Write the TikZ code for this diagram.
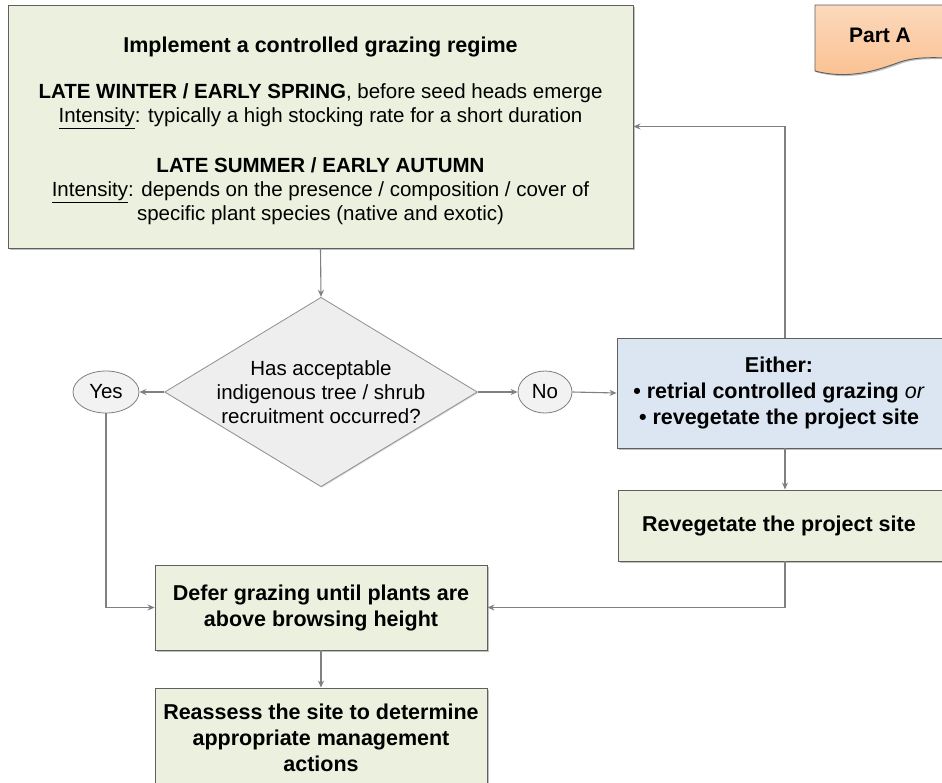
\documentclass[tikz,border=0pt]{standalone}
\usepackage{fontspec}
\setmainfont{Liberation Sans}
\usetikzlibrary{shapes.geometric,shadows,arrows.meta}
\definecolor{boxgreen}{HTML}{EBF1DE}
\definecolor{boxblue}{HTML}{DCE6F2}
\definecolor{boxgray}{HTML}{EEEEEE}
\definecolor{edgegray}{HTML}{5F5F5F}
\definecolor{linegray}{HTML}{808080}
\definecolor{partorange}{HTML}{FAC090}
\begin{document}
\begin{tikzpicture}[x=1pt,y=-1pt,
  every node/.style={font=\fontsize{20.5}{24}\selectfont},
  shad/.style={drop shadow={shadow xshift=1.5pt,shadow yshift=-1.5pt,fill=black,opacity=0.25}},
  gbox/.style={rectangle,draw=edgegray,line width=0.9pt,fill=boxgreen,shad,align=center,inner sep=0pt},
  boldbox/.style={gbox,font=\fontsize{21.5}{26}\selectfont\bfseries},
  bbox/.style={boldbox,fill=boxblue},
  decision/.style={diamond,draw=edgegray!70,line width=0.8pt,fill=boxgray,drop shadow={shadow xshift=1pt,shadow yshift=-1pt,fill=black,opacity=0.15},align=center,inner sep=0pt},
  answer/.style={ellipse,draw=edgegray!80,line width=0.8pt,fill=white!95!black,inner sep=0pt,minimum width=66pt,minimum height=42pt},
  conn/.style={draw=linegray,line width=1.1pt,-{Stealth[length=7pt,width=6pt]}}
]
\useasboundingbox (0,0) rectangle (942,782);
\clip (0,0) rectangle (942,782);
\fill[white] (0,0) rectangle (942,782);

% Part A document shape
\path[draw=edgegray,line width=0.9pt,top color=partorange!60,bottom color=partorange,shad]
  (815,5) -- (960,5) -- (960,58) .. controls (935,58) and (918,56) .. (900,62)
  .. controls (878,70) and (850,80) .. (815,71) -- cycle;
\node[font=\fontsize{21}{24}\selectfont\bfseries] (partA) at (880,35) {Part A};

\node[gbox,minimum width=625pt,minimum height=243pt] (top) at (320.5,126.5) {%
\rule{0pt}{24pt}{\fontsize{21.5}{24}\selectfont\bfseries Implement a controlled grazing regime}\\[22pt]
\textbf{LATE WINTER / EARLY SPRING}, before seed heads emerge\\
\underline{Intensity}: typically a high stocking rate for a short duration\\[26pt]
\textbf{LATE SUMMER / EARLY AUTUMN}\\
\underline{Intensity}: depends on the presence / composition / cover of\\
specific plant species (native and exotic)};

\node[decision,minimum width=312pt,minimum height=189pt,shape aspect=1.65] (dec) at (321,392) {%
Has acceptable\\indigenous tree / shrub\\recruitment occurred?};

\node[answer] (yes) at (106,392) {Yes};
\node[answer,minimum width=54pt] (no) at (545,392) {No};

\node[bbox,minimum width=336pt,minimum height=110pt] (either) at (785,393) {%
\hspace*{-12pt}Either:\\\hspace*{-12pt}\textbullet\ retrial controlled grazing \textmd{\textit{or}}\\\hspace*{-12pt}\textbullet\ revegetate the project site};

\node[boldbox,minimum width=334pt,minimum height=71pt] (reveg) at (785,525.5) {\hspace*{-12pt}Revegetate the project site};

\node[boldbox,minimum width=332pt,minimum height=85pt] (defer) at (321,607.5) {%
Defer grazing until plants are\\above browsing height};

\node[boldbox,minimum width=332pt,minimum height=100pt] (reassess) at (321,738) {%
Reassess the site to determine\\appropriate management\\actions};

\draw[conn] (top.south) -- (dec.north);
\draw[conn] (dec.west) -- (yes.east);
\draw[conn] (dec.east) -- (no.west);
\draw[conn] (no.east) -- (either.west);
\draw[conn] (either.north) |- (top.east);
\draw[conn] (either.south) -- (reveg.north);
\draw[conn] (reveg.south) |- (defer.east);
\draw[conn] (yes.south) |- (defer.west);
\draw[conn] (defer.south) -- (reassess.north);
\end{tikzpicture}
\end{document}
